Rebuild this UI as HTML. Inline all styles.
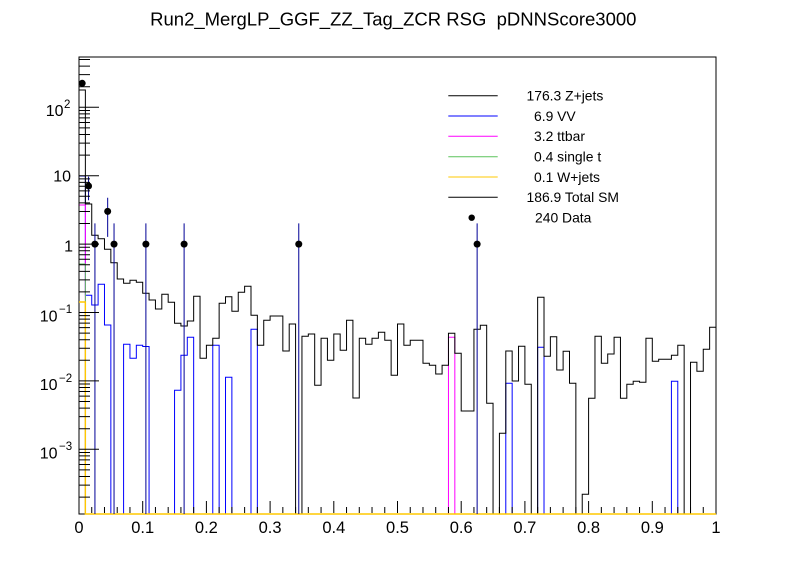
<!DOCTYPE html>
<html><head><meta charset="utf-8"><style>
html,body{margin:0;padding:0;background:#fff;}
svg{display:block;}
text{font-family:"Liberation Sans",Arial,sans-serif;fill:#000;}
</style></head><body>
<svg width="796" height="572" viewBox="0 0 796 572" xmlns="http://www.w3.org/2000/svg">
<rect x="0" y="0" width="796" height="572" fill="#fff"/>
<text x="393.3" y="25.5" font-size="18.5" text-anchor="middle">Run2_MergLP_GGF_ZZ_Tag_ZCR RSG&#160; pDNNScore3000</text>

<!-- frame -->
<rect x="79" y="57" width="637" height="457" fill="none" stroke="#000" stroke-width="1"/>

<!-- histograms -->
<g fill="none" stroke-width="1">
<path stroke="#0000ff" d="M79,514 V176 H85.37 V295.3 H91.74 V305 H98.11 V284.3 H104.48 V325 H110.85 V514 H123.59 V344.3 H129.96 V358.3 H136.33 V345.3 H142.7 V346.5 H149.07 V514 H174.55 V390.2 H180.92 V355.2 H187.29 V337.3 H193.66 V514 H212.77 V345.3 H219.14 V514 H225.51 V377.3 H231.88 V514 H250.99 V329.3 H257.36 V514 H505.79 V383.3 H512.16 V514 H537.64 V347.3 H544.01 V514 H671.41 V381.3 H677.78 V514 H716"/>
<path stroke="#ff00ff" d="M79,205 H85.37 V514 M448.46,514 V337.3 H454.83 V514"/>
<path stroke="#5cc35c" d="M79,264 H85.37 V514"/>
<path stroke="#000" d="M79,514 V90 H85.37 V204 H91.74 V235.3 H98.11 V238.7 H104.48 V249.3 H110.85 V262.7 H117.22 V279 H123.59 V283.3 H129.96 V280.3 H136.33 V282.3 H142.7 V293.3 H149.07 V300 H155.44 V309 H161.81 V294.3 H168.18 V302.3 H174.55 V323.3 H180.92 V326 H187.29 V321 H193.66 V296.3 H200.03 V358.3 H206.4 V345.3 H212.77 V338.3 H219.14 V303.3 H225.51 V296.7 H231.88 V311.3 H238.25 V292.3 H244.62 V286.3 H250.99 V315.3 H257.36 V345.3 H263.73 V320.3 H270.1 V316 H282.84 V351 H289.21 V324 H295.58 V514 H301.95 V336.3 H308.32 V334 H314.69 V385.3 H321.06 V338.3 H327.43 V360.3 H333.8 V334 H340.17 V350.3 H346.54 V320.3 H352.91 V398 H359.28 V338.3 H365.65 V344.3 H372.02 V338.3 H378.39 V332.3 H384.76 V340.3 H391.13 V375.3 H397.5 V324 H403.87 V345.3 H410.24 V340.3 H422.98 V363.3 H429.35 V365.3 H435.72 V374 H442.09 V365.3 H448.46 V333.3 H454.83 V353.3 H461.2 V411 H473.94 V329.3 H480.31 V325.3 H486.68 V403.3 H493.05 V514 H499.42 V433.3 H505.79 V351 H512.16 V381 H518.53 V346.3 H524.9 V384.3 H531.27 V514 H537.64 V297.3 H544.01 V356.3 H550.38 V336.7 H556.75 V370 H563.12 V351.3 H569.49 V383.3 H575.86 V514 H582.23 V494.3 H588.6 V398.3 H594.97 V336.3 H601.34 V363.3 H607.71 V354 H614.08 V337.3 H620.45 V398.3 H626.82 V384.3 H633.19 V381.3 H639.56 V382.3 H645.93 V338.3 H652.3 V361.3 H658.67 V359.3 H671.41 V355.3 H677.78 V345.3 H684.15 V514 H690.52 V362.3 H696.89 V371.3 H703.26 V349.3 H709.63 V327.3 H716 V514"/>
<path stroke="#ffc800" stroke-width="1.4" d="M79,302 H85.37 V514 H716"/>
</g>

<!-- data error bars -->
<g stroke="#000096" stroke-width="1" fill="none">
<path d="M88.55,176.6 V200.3 M94.93,223.4 V514 M107.67,197.8 V236.9 M114.04,223.4 V514 M145.89,223.4 V514 M184.11,223.4 V514 M298.77,223.4 V514 M477.13,223.4 V514"/>
</g>
<g fill="#000">
<circle cx="82.19" cy="83.3" r="3.5"/>
<circle cx="88.55" cy="186" r="3.5"/>
<circle cx="94.93" cy="244.1" r="3.5"/>
<circle cx="107.67" cy="211.4" r="3.5"/>
<circle cx="114.04" cy="244.1" r="3.5"/>
<circle cx="145.89" cy="244.1" r="3.5"/>
<circle cx="184.11" cy="244.1" r="3.5"/>
<circle cx="298.77" cy="244.1" r="3.5"/>
<circle cx="477.13" cy="244.1" r="3.5"/>
</g>

<!-- x ticks -->
<g stroke="#000" stroke-width="1" fill="none">
<path d="M91.74,513v-6M104.48,513v-6M117.22,513v-6M129.96,513v-6M155.44,513v-6M168.18,513v-6M180.92,513v-6M193.66,513v-6M219.14,513v-6M231.88,513v-6M244.62,513v-6M257.36,513v-6M282.84,513v-6M295.58,513v-6M308.32,513v-6M321.06,513v-6M346.54,513v-6M359.28,513v-6M372.02,513v-6M384.76,513v-6M410.24,513v-6M422.98,513v-6M435.72,513v-6M448.46,513v-6M473.94,513v-6M486.68,513v-6M499.42,513v-6M512.16,513v-6M537.64,513v-6M550.38,513v-6M563.12,513v-6M575.86,513v-6M601.34,513v-6M614.08,513v-6M626.82,513v-6M639.56,513v-6M665.04,513v-6M677.78,513v-6M690.52,513v-6M703.26,513v-6"/>
<path d="M142.7,513v-12M206.4,513v-12M270.1,513v-12M333.8,513v-12M397.5,513v-12M461.2,513v-12M524.9,513v-12M588.6,513v-12M652.3,513v-12"/>
<!-- y ticks -->
<path d="M79,107.3h20M79,175.7h20M79,244.1h20M79,312.5h20M79,380.9h20M79,449.3h20"/>
<path d="M79,86.71h11M79,74.67h11M79,66.12h11M79,59.49h11
M79,155.11h11M79,143.07h11M79,134.52h11M79,127.89h11M79,122.48h11M79,117.9h11M79,113.93h11M79,110.45h11
M79,223.51h11M79,211.47h11M79,202.92h11M79,196.29h11M79,190.88h11M79,186.3h11M79,182.33h11M79,178.85h11
M79,291.91h11M79,279.87h11M79,271.32h11M79,264.69h11M79,259.28h11M79,254.7h11M79,250.73h11M79,247.25h11
M79,360.31h11M79,348.27h11M79,339.72h11M79,333.09h11M79,327.68h11M79,323.1h11M79,319.13h11M79,315.65h11
M79,428.71h11M79,416.67h11M79,408.12h11M79,401.49h11M79,396.08h11M79,391.5h11M79,387.53h11M79,384.05h11
M79,497.11h11M79,485.07h11M79,476.52h11M79,469.89h11M79,464.48h11M79,459.9h11M79,455.93h11M79,452.45h11"/>
</g>

<!-- x labels -->
<g font-size="16.5" text-anchor="middle">
<text x="79" y="533">0</text>
<text x="142.7" y="533">0.1</text>
<text x="206.4" y="533">0.2</text>
<text x="270.1" y="533">0.3</text>
<text x="333.8" y="533">0.4</text>
<text x="397.5" y="533">0.5</text>
<text x="461.2" y="533">0.6</text>
<text x="524.9" y="533">0.7</text>
<text x="588.6" y="533">0.8</text>
<text x="652.3" y="533">0.9</text>
<text x="716" y="533">1</text>
</g>

<!-- y labels -->
<g font-size="16">
<text x="63.5" y="116" text-anchor="end">10</text>
<text x="64" y="108" font-size="11.5">2</text>
<text x="71" y="181.5" text-anchor="end">10</text>
<text x="73" y="251.5" text-anchor="end">1</text>
<text x="57.5" y="321.5" text-anchor="end">10</text>
<text x="59" y="313" font-size="11.5">−1</text>
<text x="57.5" y="390" text-anchor="end">10</text>
<text x="59" y="382" font-size="11.5">−2</text>
<text x="57.5" y="458.3" text-anchor="end">10</text>
<text x="59" y="450" font-size="11.5">−3</text>
</g>

<!-- legend -->
<g stroke-width="1" fill="none">
<path stroke="#000" d="M448.3,95.7H497.7"/>
<path stroke="#0000ff" d="M448.3,116H497.7"/>
<path stroke="#ff00ff" d="M448.3,136.3H497.7"/>
<path stroke="#5cc35c" d="M448.3,156.7H497.7"/>
<path stroke="#ffc800" d="M448.3,177H497.7"/>
<path stroke="#000" d="M448.3,197.3H497.7"/>
</g>
<circle cx="471.7" cy="217.7" r="3.2" fill="#000"/>
<g font-size="13.9">
<text x="526.5" y="100.5">176.3 Z+jets</text>
<text x="534" y="120.8">6.9 VV</text>
<text x="534" y="141.1">3.2 ttbar</text>
<text x="534" y="161.5">0.4 single t</text>
<text x="534" y="181.8">0.1 W+jets</text>
<text x="526.5" y="202.1">186.9 Total SM</text>
<text x="535" y="222.5">240 Data</text>
</g>
</svg>
</body></html>
